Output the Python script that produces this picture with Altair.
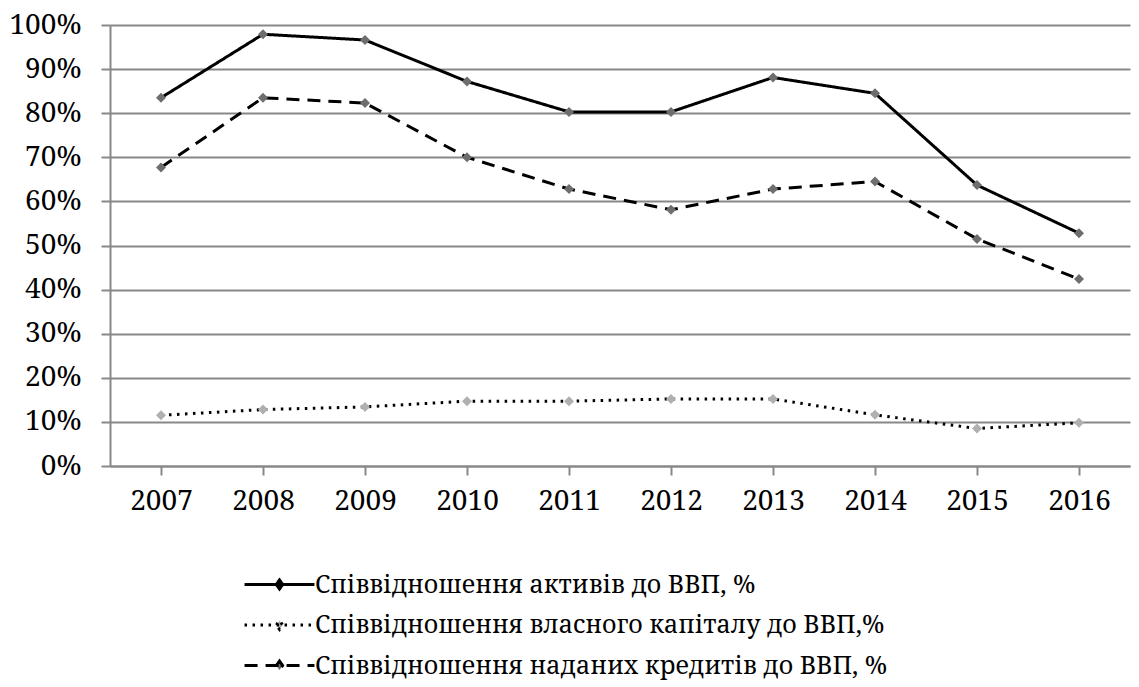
import altair as alt
import pandas as pd

years = ["2007", "2008", "2009", "2010", "2011", "2012", "2013", "2014", "2015", "2016"]
assets = [83.5, 97.9, 96.6, 87.2, 80.3, 80.3, 88.1, 84.5, 63.7, 52.8]
equity = [11.5, 12.8, 13.4, 14.7, 14.7, 15.2, 15.2, 11.6, 8.5, 9.8]
loans = [67.7, 83.5, 82.3, 70.0, 62.8, 58.1, 62.8, 64.5, 51.5, 42.4]

s_assets = "Співвідношення  активів до ВВП, %"
s_equity = "Співвідношення  власного капіталу до ВВП,%"
s_loans = "Співвідношення  наданих кредитів до ВВП, %"
series_names = [s_assets, s_equity, s_loans]

rows = []
for name, vals in zip(series_names, [assets, equity, loans]):
    for y, v in zip(years, vals):
        rows.append({"year": y, "value": v / 100.0, "series": name})
df = pd.DataFrame(rows)

FONT = "Noto Serif"

x = alt.X("year:N", sort=years, title=None,
          scale=alt.Scale(paddingInner=0, paddingOuter=0),
          axis=alt.Axis(labelAngle=0, bandPosition=0, labelFontSize=28, labelFont=FONT,
                        labelColor="black", tickColor="#888888", tickSize=9, tickWidth=2,
                        domainColor="#888888", domainWidth=2, labelPadding=12,
                        grid=False, labelBound=False, labelFlush=False))
y = alt.Y("value:Q", title=None,
          scale=alt.Scale(domain=[0, 1], nice=False),
          axis=alt.Axis(format=".0%", values=[i / 10 for i in range(11)], labelFontSize=28,
                        labelFont=FONT, labelColor="black", tickColor="#888888", tickSize=9,
                        tickWidth=2, domainColor="#888888", domainWidth=2, labelPadding=20,
                        gridColor="#888888", gridWidth=2, labelBaseline="middle"))

dash = alt.StrokeDash("series:N", sort=series_names,
                      scale=alt.Scale(domain=series_names, range=[[1, 0], [2.5, 5.5], [13, 8]]),
                      legend=alt.Legend(
                          title=None, orient="none", legendX=153, legendY=543,
                          direction="vertical",
                          symbolType="M-2.33,0H2.33M-0.21,0L0,-0.3L0.21,0L0,0.3Z",
                          symbolSize=900, symbolStrokeWidth=3, symbolStrokeColor="black",
                          symbolFillColor="#6e6e6e", labelFont=FONT, labelFontSize=25,
                          labelColor="black", labelOffset=19, rowPadding=10.5,
                          labelLimit=800))

lines = alt.Chart(df).mark_line(color="black", strokeWidth=3).encode(
    x=x, y=y, strokeDash=dash
)

pt_colors = alt.Color("series:N", scale=alt.Scale(domain=series_names,
                                                   range=["#6e6e6e", "#b0b0b0", "#6e6e6e"]),
                      legend=None)
points = alt.Chart(df).mark_point(shape="diamond", filled=True, size=100, opacity=1).encode(
    x=alt.X("year:N", sort=years), y="value:Q", color=pt_colors
)

chart = alt.layer(lines, points).properties(
    width=1020, height=441,
    autosize=alt.AutoSizeParams(type="none"),
    padding={"left": 102, "top": 17, "right": 1, "bottom": 216},
    background="white",
).configure_view(stroke=None)

chart.save("out.html", embed_options={"renderer": "svg", "actions": False})
